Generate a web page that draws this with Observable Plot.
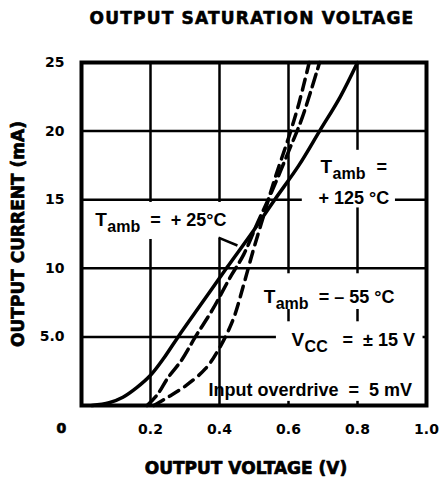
<!DOCTYPE html>
<html><head><meta charset="utf-8">
<script src="https://cdn.jsdelivr.net/npm/d3@7"></script>
<script src="https://cdn.jsdelivr.net/npm/@observablehq/plot@0.6"></script>
<style>
body{margin:0;background:#fff;}
#title{width:376px;height:36px;line-height:36px;padding-left:64px;text-align:center;font-family:"DejaVu Sans";font-weight:bold;font-size:17px;letter-spacing:1.2px;color:#000;-webkit-text-stroke:0.6px #000;}
#chart svg{display:block;}
</style></head><body>
<div id="title">OUTPUT SATURATION VOLTAGE</div>
<div id="chart"></div>
<script>
// Axis ticks
const xTicks = [0.2, 0.4, 0.6, 0.8, 1.0];
const xTickLabels = ["0.2", "0.4", "0.6", "0.8", "1.0"];
const yTicks = [5, 10, 15, 20, 25];
const yTickLabels = ["5.0", "10", "15", "20", "25"];

// Curves (output voltage V, output current mA)
const v125 = [0.03, 0.08, 0.12, 0.16, 0.20, 0.24, 0.28, 0.35, 0.42, 0.50, 0.56, 0.63, 0.69, 0.75, 0.80];
const i125 = [0, 0.2, 0.6, 1.3, 2.2, 3.5, 5.0, 7.5, 10.0, 12.8, 15.0, 17.5, 20.0, 22.5, 25.0];
const v25 = [0.19, 0.22, 0.25, 0.29, 0.33, 0.38, 0.43, 0.47, 0.51, 0.55, 0.60, 0.64, 0.69];
const i25 = [0, 0.8, 2.0, 3.3, 5.0, 7.0, 9.3, 11.0, 13.3, 15.5, 18.5, 21.0, 25.0];
const vm55 = [0.21, 0.25, 0.30, 0.36, 0.40, 0.44, 0.47, 0.50, 0.53, 0.56, 0.60, 0.63, 0.66];
const im55 = [0, 0.6, 1.4, 2.7, 4.2, 6.3, 8.8, 11.5, 14.0, 16.5, 19.5, 22.0, 25.0];

const toRows = (vs, is) => vs.map((v, k) => ({v, i: is[k]}));
const c125 = toRows(v125, i125), c25 = toRows(v25, i25), cm55 = toRows(vm55, im55);

const F = "Liberation Sans";
const lab = (text, x, y, o = {}) => Plot.text([text], {x, y, text: d => d, textAnchor: "start", lineAnchor: "bottom", fontFamily: F, fontWeight: "bold", fontSize: 18, fill: "black", ...o});
const heavy = {fill: "black", stroke: "black", strokeWidth: 0.7};

const chart = Plot.plot({
  width: 440, height: 448,
  marginLeft: 81, marginRight: 14, marginTop: 26, marginBottom: 79,
  style: {fontFamily: "DejaVu Sans", fontWeight: "bold", fontSize: "14px", color: "black", background: "white"},
  x: {domain: [0, 1]},
  y: {domain: [0, 25]},
  marks: [
    Plot.gridX(xTicks, {stroke: "black", strokeOpacity: 1, strokeWidth: 2.5}),
    Plot.gridY(yTicks, {stroke: "black", strokeOpacity: 1, strokeWidth: 2.5}),
    // cleared areas behind annotations
    Plot.rect([0], {x1: 0.565, x2: 0.99, y1: 0.3, y2: 9.6, fill: "white"}),
    Plot.rect([0], {x1: 0.015, x2: 0.45, y1: 12.1, y2: 14.8, fill: "white"}),
    Plot.rect([0], {x1: 0.64, x2: 0.91, y1: 14.4, y2: 18.6, fill: "white"}),
    Plot.ruleX([0.6, 0.8], {y1: 6.1, y2: 7.0, stroke: "black", strokeWidth: 2.5}),
    Plot.frame({stroke: "black", strokeWidth: 4}),
    Plot.line(c125, {x: "v", y: "i", curve: "catmull-rom", stroke: "black", strokeWidth: 3.5}),
    Plot.line(c25, {x: "v", y: "i", curve: "catmull-rom", stroke: "black", strokeWidth: 3.5, strokeDasharray: "13,6"}),
    Plot.line(cm55, {x: "v", y: "i", curve: "catmull-rom", stroke: "black", strokeWidth: 3.5, strokeDasharray: "11,7"}),
    Plot.link([0], {x1: 0.397, y1: 12.24, x2: 0.452, y2: 11.66, stroke: "black", strokeWidth: 2.5}),
    // annotations
    lab("T", 0.04, 13.05, {fontSize: 19}),
    lab("amb", 0.04, 13.05, {dx: 12, dy: 6, fontSize: 16}),
    lab("=  + 25°C", 0.04, 13.05, {dx: 55}),
    lab("T", 0.693, 16.98, {fontSize: 19}),
    lab("amb", 0.693, 16.98, {dx: 12, dy: 6, fontSize: 16}),
    lab("=", 0.693, 16.98, {dx: 56}),
    lab("+ 125 °C", 0.687, 14.72),
    lab("T", 0.528, 7.5, {fontSize: 19}),
    lab("amb", 0.528, 7.5, {dx: 12, dy: 6, fontSize: 16}),
    lab("= – 55 °C", 0.528, 7.5, {dx: 55}),
    lab("V", 0.609, 4.37, {fontSize: 19}),
    lab("CC", 0.609, 4.37, {dx: 13, dy: 6, fontSize: 16}),
    lab("=  ± 15 V", 0.609, 4.37, {dx: 51}),
    lab("Input overdrive  =  5 mV", 0.368, 0.66),
    // axes
    Plot.axisX(xTicks, {tickSize: 0, tickPadding: 19, tickFormat: (d, k) => xTickLabels[k], label: null, fontSize: 14, ...heavy}),
    Plot.axisY(yTicks, {tickSize: 0, tickPadding: 17, tickFormat: (d, k) => yTickLabels[k], label: null, fontSize: 14, ...heavy}),
    Plot.text(["0"], {frameAnchor: "bottom-left", text: d => d, dx: -25, dy: 27, fontSize: 14, ...heavy}),
    Plot.text(["OUTPUT VOLTAGE (V)"], {frameAnchor: "bottom", textAnchor: "middle", text: d => d, dx: -8, dy: 68, fontSize: 17, ...heavy}),
    Plot.text(["OUTPUT CURRENT (mA)"], {frameAnchor: "left", textAnchor: "middle", text: d => d, dx: -63, rotate: -90, fontSize: 17, ...heavy})
  ]
});
document.getElementById("chart").append(chart);
</script>
</body></html>
